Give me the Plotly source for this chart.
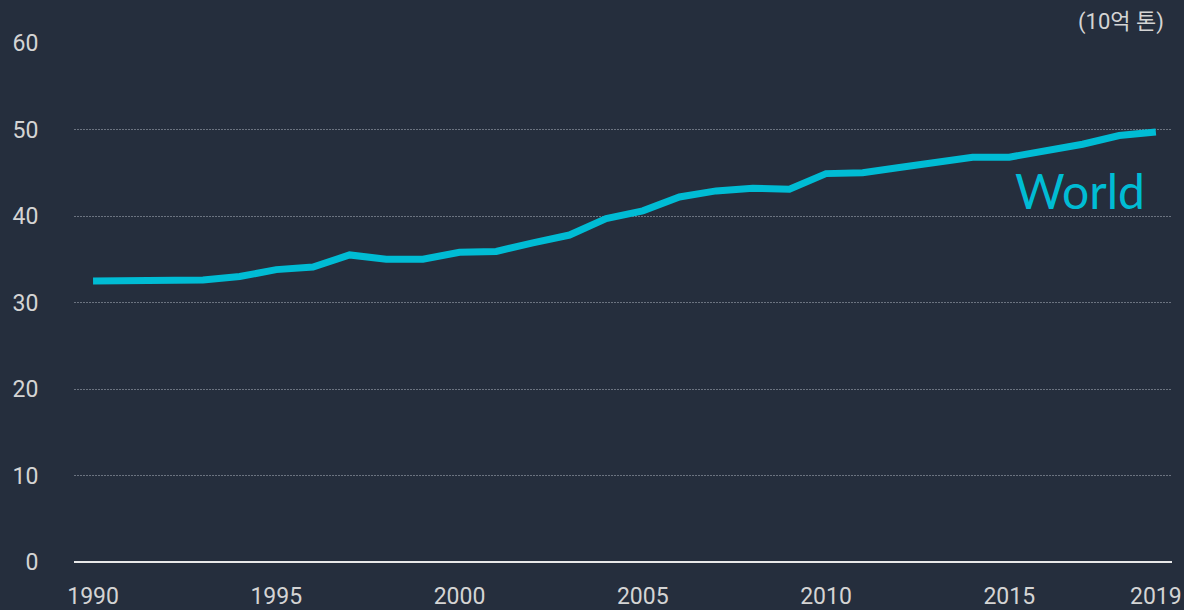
import plotly.graph_objects as go

# World CO2-equivalent emissions, billion tonnes
years = list(range(1990, 2020))
emissions = [
    32.5, 32.6, 32.55, 32.6, 33.0, 33.8, 34.1, 35.5, 35.0, 35.0,
    35.8, 35.9, 36.9, 37.8, 39.7, 40.6, 42.2, 42.9, 43.2, 43.1,
    44.9, 45.0, 45.6, 46.2, 46.8, 46.8, 47.5, 48.3, 49.3, 49.7,
]
x_ticks = [1990, 1995, 2000, 2005, 2010, 2015, 2019]
y_ticks = [0, 10, 20, 30, 40, 50, 60]

bg = "#252e3d"
line_color = "#00bcd4"
text_color = "#d4d4d4"

fig = go.Figure()
fig.add_trace(
    go.Scatter(
        x=years,
        y=emissions,
        mode="lines",
        line=dict(color=line_color, width=7),
        name="World",
        showlegend=False,
    )
)

fig.add_annotation(
    x=2016.92, y=43.0, xref="x", yref="y",
    text="World", showarrow=False,
    font=dict(family="Lato", size=48, color=line_color),
    xanchor="center", yanchor="middle",
)
fig.add_annotation(
    x=0.9945, y=1.04, xref="paper", yref="paper",
    text="(10억 톤)", showarrow=False,
    font=dict(family="Roboto, Noto Sans CJK KR", size=22, color=text_color),
    xanchor="right", yanchor="middle",
)

fig.update_xaxes(
    range=[1989.48, 2019.44],
    tickvals=x_ticks,
    showgrid=False,
    zeroline=False,
    showline=False,
    automargin=False,
    ticks="outside", ticklen=13, tickcolor=bg,
    tickfont=dict(family="Roboto", size=23, color=text_color),
)
fig.update_yaxes(
    range=[0, 60],
    tickvals=y_ticks,
    showgrid=True, gridcolor="#6b7380", griddash="1.5px,1.5px", gridwidth=1,
    zeroline=True, zerolinecolor="#e8e8e8", zerolinewidth=2,
    automargin=False,
    ticks="outside", ticklen=30, tickcolor=bg,
    tickfont=dict(family="Roboto", size=23, color=text_color),
)
fig.update_layout(
    width=1184, height=610,
    paper_bgcolor=bg, plot_bgcolor=bg,
    margin=dict(l=74, r=12, t=43, b=48),
)

fig.write_html(
    "out.html",
    config={"displayModeBar": False},
    post_script="document.body.style.margin='0';document.body.style.overflow='hidden';",
)
